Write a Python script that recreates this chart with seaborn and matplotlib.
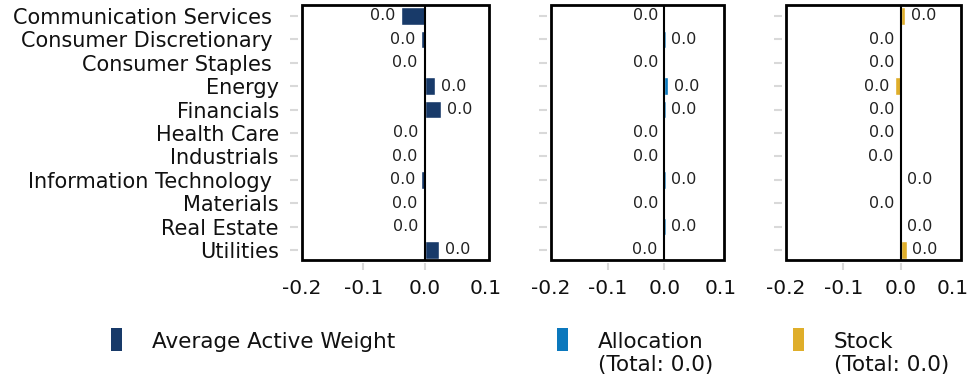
import matplotlib
matplotlib.use("Agg")
import matplotlib.pyplot as plt
from matplotlib.patches import Rectangle
from matplotlib.transforms import ScaledTranslation
import seaborn as sns
import pandas as pd

sectors = ["Communication Services ", "Consumer Discretionary ", "Consumer Staples ",
           "Energy", "Financials", "Health Care", "Industrials",
           "Information Technology ", "Materials", "Real Estate", "Utilities"]
active_weight = [-0.038, -0.0055, -0.002, 0.0175, 0.027, -0.001, -0.003,
                 -0.0055, -0.003, -0.001, 0.024]
allocation = [-0.001, 0.002, -0.001, 0.007, 0.002, -0.001, -0.001,
              0.002, -0.001, 0.002, -0.003]
stock = [0.0075, -0.001, -0.001, -0.010, -0.001, -0.001, -0.003,
         0.002, -0.001, 0.002, 0.0105]
xticks = [-0.2, -0.1, 0.0, 0.1]
xtick_labels = ["-0.2", "-0.1", "0.0", "0.1"]
xtick_marks = [-0.1, 0.0]
legend_labels = ["Average Active Weight", "Allocation\n(Total: 0.0)", "Stock\n(Total: 0.0)"]
colors = ["#183a69", "#0b78bd", "#dfae2a"]

df = pd.DataFrame({"sector": sectors, "active": active_weight,
                   "allocation": allocation, "stock": stock})

sns.set_theme(style="white")
plt.rcParams["font.family"] = ["DejaVu Sans"]
plt.rcParams["text.color"] = "#222222"

W, H = 970, 379
fig = plt.figure(figsize=(W / 100, H / 100), dpi=100)

panels = [(302, 187), (551, 173), (786, 175)]
top_px, bot_px = 5, 260
cols = ["active", "allocation", "stock"]

def fmt(v):
    return f"{round(v, 1) + 0.0:.1f}"

for i, ((x0, w), col, c) in enumerate(zip(panels, cols, colors)):
    ax = fig.add_axes([x0 / W, 1 - bot_px / H, w / W, (bot_px - top_px) / H])
    sns.barplot(data=df, x=col, y="sector", color=c, saturation=1, ax=ax,
                width=0.76, orient="h")
    ax.set_xlim(-0.2, 0.105)
    ax.set_ylim(10.43, -0.47)
    ax.axvline(0, color="black", lw=1.5, zorder=5)
    ax.bar_label(ax.containers[0], labels=[fmt(v) for v in df[col]],
                 padding=4, fontsize=11.5, color="#222222")
    ax.set_xlabel("")
    ax.set_ylabel("")
    ax.xaxis.remove_overlapping_locs = False
    ax.set_xticks(xticks, labels=xtick_labels)
    ax.set_xticks(xtick_marks, minor=True)
    for s in ax.spines.values():
        s.set_visible(False)
    ax.spines["left"].set_position(("outward", 3))
    ax.spines["bottom"].set_position(("outward", 2))
    ax.tick_params(axis="x", which="major", bottom=True, length=0, pad=12,
                   labelsize=14.5, labelcolor="#111111")
    ax.tick_params(axis="x", which="minor", bottom=True, direction="out",
                   length=5, width=1.5, color="#d9d9d9")
    ax.tick_params(axis="y", which="major", left=True, direction="out",
                   length=5.8, width=1.5, color="#d9d9d9")
    if i == 0:
        ax.tick_params(axis="y", labelsize=15, pad=7.9, labelcolor="#111111")
    else:
        ax.set_yticklabels([])
    ax.add_patch(Rectangle((0, 0), 1, 1, transform=ax.transAxes, fill=False,
                           edgecolor="black", lw=2, clip_on=False, zorder=6))
    ax.grid(False)
    if i == 2:
        lbl = ax.xaxis.get_major_ticks()[-1].label1
        lbl.set_transform(lbl.get_transform() +
                          ScaledTranslation(-0.05, 0, fig.dpi_scale_trans))

leg_sq = [111, 557, 793]
for x, lab, c in zip(leg_sq, legend_labels, colors):
    fig.add_artist(Rectangle((x / W, 1 - 351 / H), 11 / W, 23 / H,
                             transform=fig.transFigure, facecolor=c,
                             edgecolor="none"))
    fig.text((x + 41) / W, 1 - 332 / H, lab, ha="left", va="top",
             fontsize=15.5, linespacing=1.2, color="#111111")

fig.savefig("out.png", dpi=100)
